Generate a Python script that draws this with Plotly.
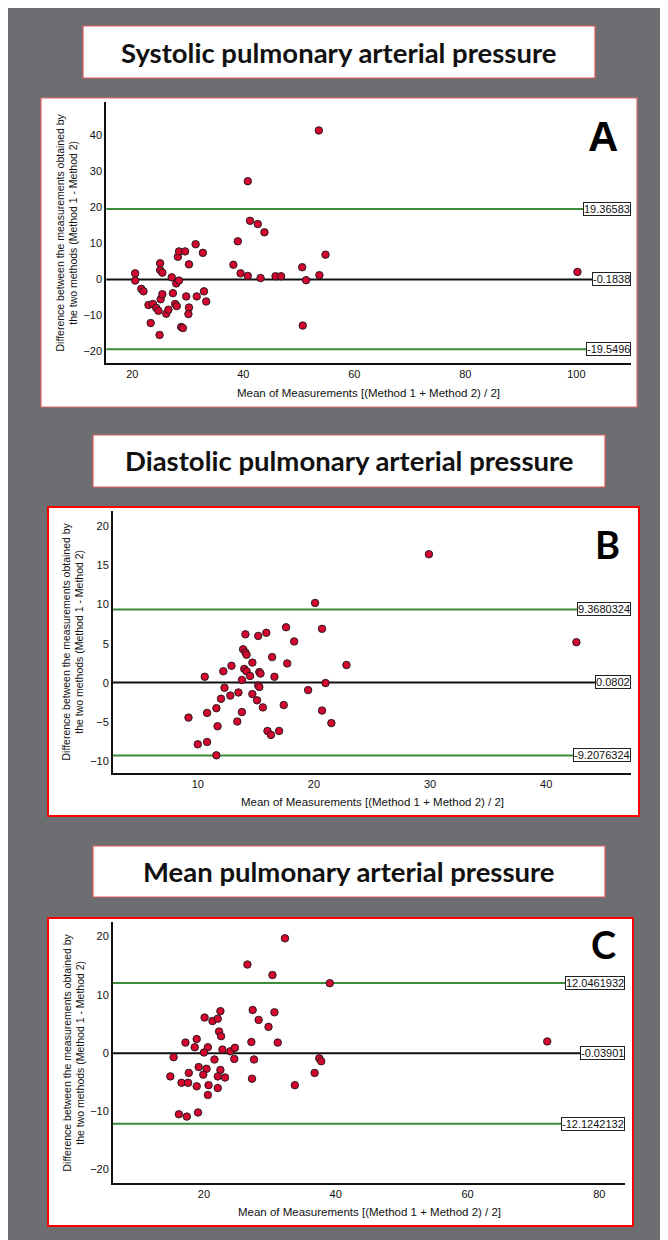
import plotly.graph_objects as go

W, H = 668, 1240

# ---------------- data ----------------
titles = ["Systolic pulmonary arterial pressure",
          "Diastolic pulmonary arterial pressure",
          "Mean pulmonary arterial pressure"]
panel_letters = ["A", "B", "C"]

sys_x = [20.5, 20.5, 21.6, 22.0, 22.9, 23.7, 23.3, 24.3, 24.7, 24.9, 25.0, 25.0, 25.4, 25.1, 25.4,
         26.1, 26.5, 27.1, 27.3, 27.7, 28.0, 27.9, 28.4, 28.2, 28.4, 29.5, 28.8, 29.1, 29.7, 30.2,
         30.2, 30.1, 31.4, 31.6, 32.7, 32.9, 33.3, 38.2, 39.0, 39.5, 40.8, 40.8, 41.2, 42.6, 43.1,
         43.8, 45.8, 46.8, 50.6, 51.3, 50.7, 53.6, 53.7, 54.8, 100.2]
sys_y = [1.5, -0.5, -2.8, -3.5, -7.3, -7.0, -12.3, -8.1, -8.9, -15.6, 4.3, 2.4, 1.7, -5.7, -4.3,
         -9.7, -8.6, 0.4, -4.0, -7.0, -7.6, -1.3, -0.5, 6.1, 7.6, 7.6, -13.4, -13.7, -4.9, 4.0,
         -8.0, -9.8, 9.6, -4.9, 7.2, -3.5, -6.3, 3.9, 10.4, 1.5, 0.8, 27.1, 16.1, 15.2, 0.2,
         12.9, 0.7, 0.7, 3.2, -0.4, -13.0, 41.2, 1.0, 6.7, 1.9]

dia_x = [20.1, 17.6, 20.7, 14.1, 15.2, 15.9, 18.3, 13.9, 14.1, 14.2, 16.4, 14.7, 12.9, 12.2, 17.7,
         22.8, 10.6, 14.0, 14.2, 14.5, 15.3, 15.4, 13.8, 16.6, 21.0, 15.2, 15.3, 12.3, 19.5, 12.0,
         12.8, 13.5, 14.7, 15.1, 15.6, 17.4, 11.6, 10.8, 13.8, 20.7, 11.7, 13.4, 21.5, 16.0, 16.3,
         17.0, 10.0, 10.8, 11.6, 9.2, 29.9, 42.6]
dia_y = [10.2, 7.1, 6.9, 6.2, 6.0, 6.4, 5.3, 4.3, 3.9, 3.6, 3.3, 2.6, 2.2, 1.5, 2.5,
         2.3, 0.8, 1.8, 1.5, 0.9, 1.4, 1.2, 0.4, 0.8, 0.0, -0.3, -0.5, -0.6, -0.9, -2.0,
         -1.6, -1.2, -1.4, -2.2, -3.1, -2.8, -3.2, -3.8, -3.7, -3.5, -5.5, -4.9, -5.1, -6.1, -6.6,
         -6.1, -7.8, -7.5, -9.2, -4.4, 16.4, 5.2]

mpap_x = [32.3, 26.6, 30.4, 39.1, 22.5, 20.1, 21.3, 22.1, 27.4, 30.7, 28.3, 29.8, 22.3, 22.6, 17.2,
          18.9, 18.6, 20.6, 20.0, 22.8, 24.0, 24.7, 27.2, 31.2, 72.1,
          15.4, 21.6, 24.6, 27.6, 37.5, 37.8, 14.9, 17.7, 19.2, 20.4, 22.5, 19.9, 22.1, 23.2, 27.3,
          36.8, 16.6, 17.6, 18.9, 20.7, 22.1, 33.8, 20.6, 16.2, 17.4, 19.1]
mpap_y = [19.7, 15.2, 13.4, 12.0, 7.2, 6.1, 5.5, 5.9, 7.4, 7.0, 5.7, 4.5, 3.7, 2.9, 1.8,
          2.4, 1.0, 1.0, 0.1, 0.6, 0.3, 0.9, 1.9, 1.8, 2.0,
          -0.7, -1.1, -1.0, -1.1, -0.9, -1.4, -4.0, -3.4, -2.4, -2.7, -2.9, -3.7, -4.0, -4.2, -4.4,
          -3.4, -5.1, -5.1, -5.7, -5.5, -6.0, -5.5, -7.2, -10.5, -10.9, -10.2]

mean_diff = [-0.1838, 0.0802, -0.03901]
upper_loa = [19.36583, 9.3680324, 12.0461932]
lower_loa = [-19.5496, -9.2076324, -12.1242132]
mean_lbl = ["-0.1838", "0.0802", "-0.03901"]
upper_lbl = ["19.36583", "9.3680324", "12.0461932"]
lower_lbl = ["-19.5496", "-9.2076324", "-12.1242132"]

x_ticks = [[20, 40, 60, 80, 100], [10, 20, 30, 40], [20, 40, 60, 80]]
y_ticks = [[-20, -10, 0, 10, 20, 30, 40], [-10, -5, 0, 5, 10, 15, 20], [-20, -10, 0, 10, 20]]
x_ranges = [[15.3, 109.8], [2.7, 47.3], [6.2, 83.9]]
y_ranges = [[-23.4, 49.1], [-11.45, 21.9], [-22.3, 22.5]]

x_title = "Mean of Measurements [(Method 1 + Method 2) / 2]"
y_title = "Difference between the measurements obtained by<br>the two methods (Method 1 - Method 2)"

xs = [sys_x, dia_x, mpap_x]
ys = [sys_y, dia_y, mpap_y]

# ---------------- layout geometry (pixels) ----------------
title_boxes = [(75, 18, 587, 70), (85, 427, 597, 479), (85, 838, 597, 889)]
chart_boxes = [(33, 90, 629, 399), (40, 499, 631, 808), (40, 910, 625, 1218)]
plot_areas = [(98.3, 94, 622.7, 355), (105, 503, 623, 765), (105, 914, 617, 1175)]
letter_pos = [(595, 128), (599, 536), (595.5, 936)]
xtitle_y = [385, 794, 1204]
ytitle_x = [59, 64.5, 65]
box_border = [("#e46a6a", 1.2), ("#ff0000", 2), ("#ff0000", 2)]

BG = "#6d6e72"
BEIGE = "#ece5d0"
GREEN = "#3a8c3a"
RED = "#d2062f"

def px(x):
    return x / W

def py(y):
    return 1 - y / H

fig = go.Figure()
shapes = []
annotations = []
layout_axes = {}

for i in range(3):
    sfx = "" if i == 0 else str(i + 1)
    xa, ya = "x" + sfx, "y" + sfx
    l, t, r, b = plot_areas[i]

    fig.add_trace(go.Scatter(
        x=xs[i], y=ys[i], mode="markers", xaxis=xa, yaxis=ya,
        marker=dict(size=7.5, color=RED, line=dict(color="#1a1a1a", width=0.9)),
        showlegend=False, hoverinfo="x+y"))

    layout_axes["xaxis" + sfx] = dict(
        domain=[px(l), px(r)], range=x_ranges[i], anchor=ya,
        tickvals=x_ticks[i], ticks="", showgrid=False, zeroline=False,
        showline=True, linecolor="#111", linewidth=2, automargin=False,
        tickfont=dict(family="Liberation Sans, Arial", size=11, color="#111"))
    layout_axes["yaxis" + sfx] = dict(
        domain=[py(b), py(t)], range=y_ranges[i], anchor=xa,
        tickvals=y_ticks[i], ticks="", showgrid=False, zeroline=False,
        showline=True, linecolor="#111", linewidth=2, automargin=False,
        tickfont=dict(family="Liberation Sans, Arial", size=11, color="#111"))

    # white chart box and title box
    bc, bw = box_border[i]
    cl, ct, cr, cb = chart_boxes[i]
    shapes.append(dict(type="rect", xref="paper", yref="paper", layer="below",
                       x0=px(cl), x1=px(cr), y0=py(cb), y1=py(ct),
                       fillcolor="white", line=dict(color=bc, width=bw)))
    tl, tt, tr, tb = title_boxes[i]
    shapes.append(dict(type="rect", xref="paper", yref="paper", layer="below",
                       x0=px(tl), x1=px(tr), y0=py(tb), y1=py(tt),
                       fillcolor="white", line=dict(color="#e05a5a", width=1.2)))
    annotations.append(dict(text="<b>" + titles[i] + "</b>", xref="paper", yref="paper",
                            x=px((tl + tr) / 2), y=py((tt + tb) / 2), showarrow=False,
                            xanchor="center", yanchor="middle",
                            font=dict(family="Lato", size=27.5, color="#111")))

    # reference lines
    for val, col in ((upper_loa[i], GREEN), (mean_diff[i], "#111"), (lower_loa[i], GREEN)):
        shapes.append(dict(type="line", xref=xa + " domain", yref=ya, layer="below",
                           x0=0, x1=1, y0=val, y1=val, line=dict(color=col, width=2)))
    for val, lbl in ((upper_loa[i], upper_lbl[i]), (mean_diff[i], mean_lbl[i]),
                     (lower_loa[i], lower_lbl[i])):
        annotations.append(dict(text=lbl, xref=xa + " domain", yref=ya, x=1, y=val,
                                xanchor="right", yanchor="middle", showarrow=False,
                                bgcolor="white", bordercolor="#222", borderwidth=1, borderpad=0,
                                font=dict(family="Liberation Sans, Arial", size=11, color="#111")))

    # axis titles
    annotations.append(dict(text=x_title, xref="paper", yref="paper",
                            x=px((l + r) / 2), y=py(xtitle_y[i]), showarrow=False,
                            xanchor="center", yanchor="middle",
                            font=dict(family="Liberation Sans, Arial", size=11.5, color="#111")))
    annotations.append(dict(text=y_title, xref="paper", yref="paper", textangle=-90,
                            x=px(ytitle_x[i]), y=py((t + b) / 2), showarrow=False,
                            xanchor="center", yanchor="middle",
                            font=dict(family="Liberation Sans, Arial", size=10.5, color="#111")))

    # panel letter
    lx, ly = letter_pos[i]
    annotations.append(dict(text="<b>" + panel_letters[i] + "</b>", xref="paper", yref="paper",
                            x=px(lx), y=py(ly), showarrow=False, xanchor="center",
                            yanchor="middle",
                            font=dict(family="Liberation Sans, Arial" if i == 0 else "Lato",
                                      size=42 if i == 0 else 38, color="#000")))

fig.update_layout(
    width=W, height=H, autosize=False,
    margin=dict(l=0, r=0, t=0, b=0, pad=0),
    paper_bgcolor=BG, plot_bgcolor=BEIGE,
    shapes=shapes, annotations=annotations, showlegend=False,
    **layout_axes)

fig.write_html("out.html", config={"displayModeBar": False})
